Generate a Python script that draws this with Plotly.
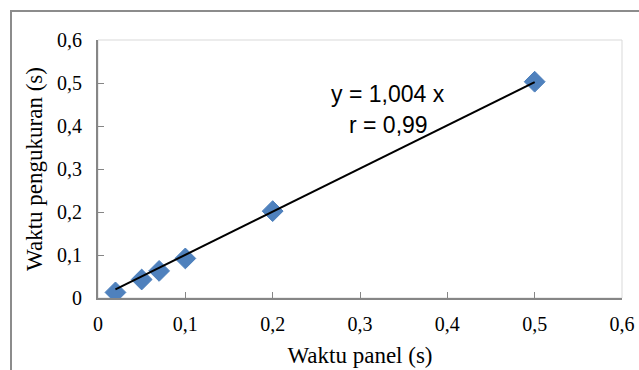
import plotly.graph_objects as go

# Data
waktu_panel = [0.02, 0.05, 0.07, 0.1, 0.2, 0.5]
waktu_pengukuran = [0.013, 0.043, 0.063, 0.092, 0.202, 0.503]
slope = 1.004
trend_x = [min(waktu_panel), max(waktu_panel)]
trend_y = [slope * v for v in trend_x]
tick_vals = [0, 0.1, 0.2, 0.3, 0.4, 0.5, 0.6]
tick_text = ["0", "0,1", "0,2", "0,3", "0,4", "0,5", "0,6"]

W, H = 639, 370
L, R, T, B = 98, 17, 40, 72
pw, ph = W - L - R, H - T - B

def px(x):
    return (x - L) / pw

def py(y):
    return (H - B - y) / ph

fig = go.Figure()
fig.add_trace(go.Scatter(
    x=waktu_panel, y=waktu_pengukuran, mode="markers",
    marker=dict(symbol="diamond", size=16, color="#4F81BD",
                line=dict(color="#4A7EBB", width=1)),
    showlegend=False, hoverinfo="skip"))
fig.add_trace(go.Scatter(
    x=trend_x, y=trend_y, mode="lines",
    line=dict(color="black", width=2), showlegend=False, hoverinfo="skip"))

axis_common = dict(
    range=[0, 0.6], tickvals=tick_vals, ticktext=tick_text,
    showgrid=False, zeroline=False, showline=True, linecolor="#868686",
    linewidth=2, ticks="inside", ticklen=6, tickcolor="#868686", tickwidth=1,
    automargin=False,
    tickfont=dict(family="Liberation Serif, Times New Roman, serif", size=20, color="black"),
)

fig.update_layout(
    width=W, height=H,
    margin=dict(l=L, r=R, t=T, b=B),
    paper_bgcolor="white", plot_bgcolor="white",
    xaxis=dict(**axis_common, ticklabelstandoff=7,
               title=dict(text="Waktu panel (s)", standoff=13,
                          font=dict(family="Liberation Serif, Times New Roman, serif", size=23, color="black"))),
    yaxis=dict(**axis_common, ticklabelstandoff=10,
               title=dict(text="Waktu pengukuran (s)", standoff=8,
                          font=dict(family="Liberation Serif, Times New Roman, serif", size=23, color="black"))),
    shapes=[
        dict(type="rect", xref="paper", yref="paper", x0=0, y0=0, x1=1, y1=1,
             line=dict(color="#D9D9D9", width=1), layer="below"),
        dict(type="rect", xref="paper", yref="paper",
             x0=px(11), y0=py(400), x1=px(660), y1=py(11),
             line=dict(color="#8C8C8C", width=2), layer="below"),
    ],
    annotations=[
        dict(text="y = 1,004 x", x=px(388), y=py(79), xref="paper", yref="paper",
             showarrow=False, font=dict(family="Liberation Sans, Arial, sans-serif", size=23, color="black")),
        dict(text="r = 0,99", x=px(388), y=py(110), xref="paper", yref="paper",
             showarrow=False, font=dict(family="Liberation Sans, Arial, sans-serif", size=23, color="black")),
    ],
)

fig.write_html("out.html", config={"displayModeBar": False},
               post_script="document.body.style.margin='0';")
